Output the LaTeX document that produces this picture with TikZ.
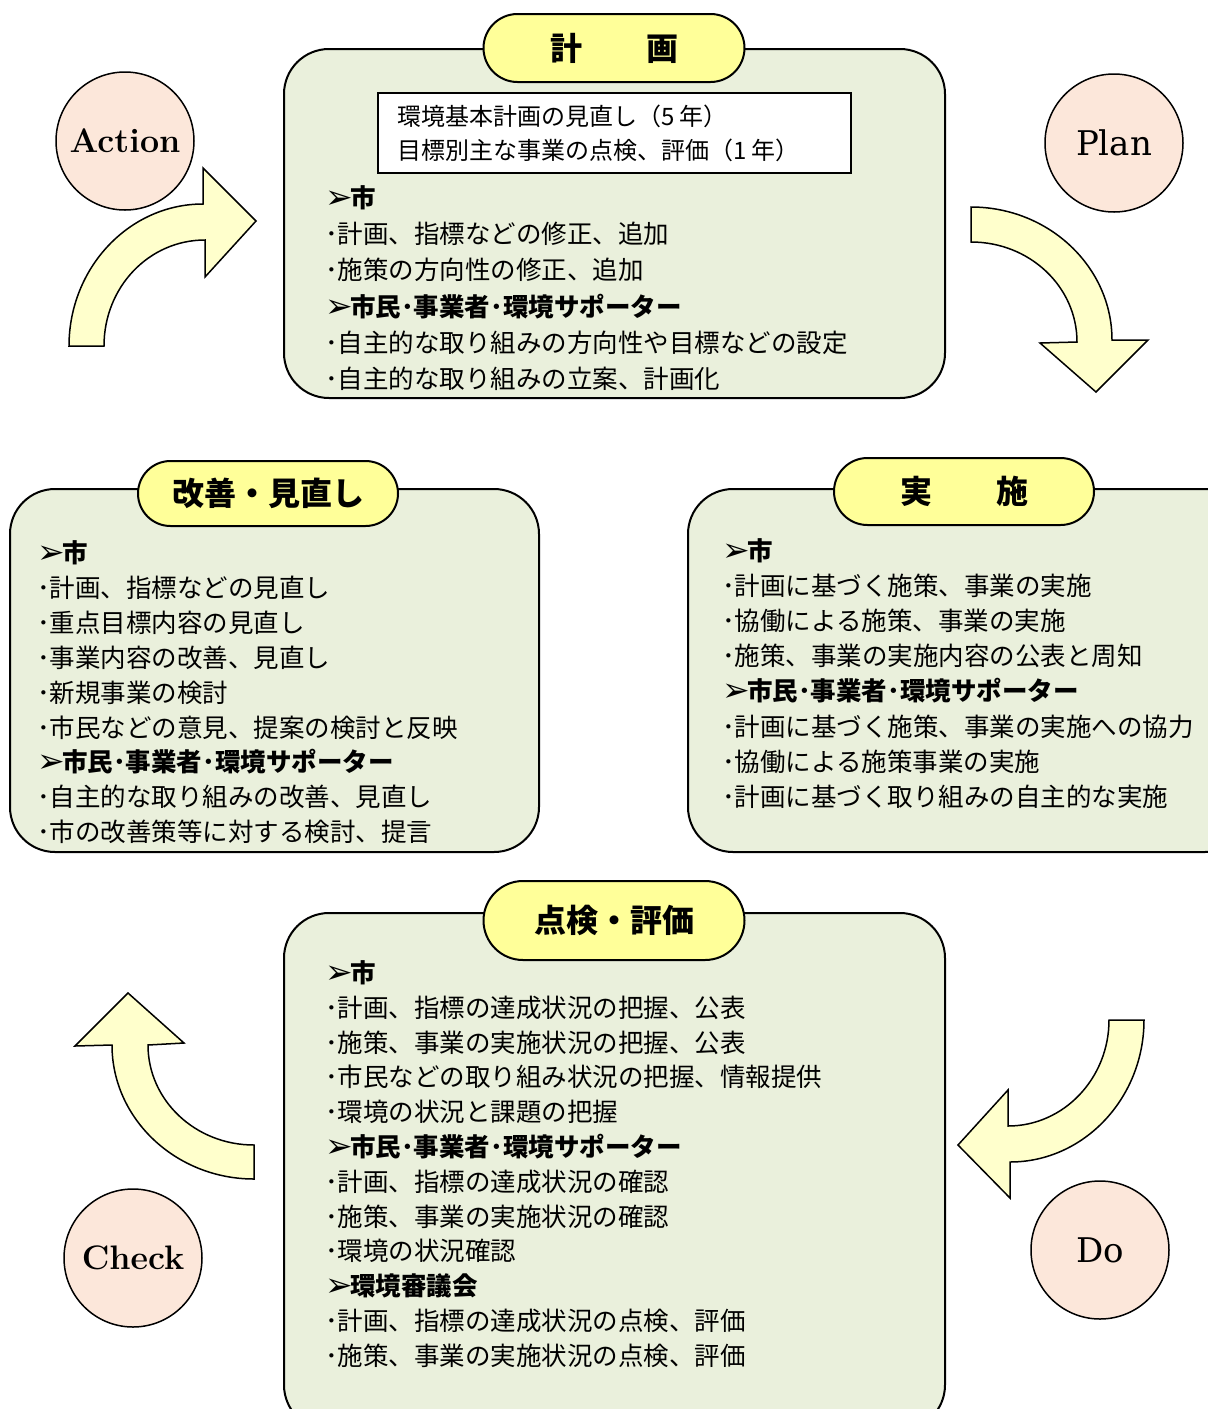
\documentclass[tikz,border=0pt]{standalone}
\usepackage{fontspec}
\newfontfamily\jp{Noto Sans CJK JP}
\newfontfamily\dv{DejaVu Sans}
\newfontfamily\dvserif{DejaVu Serif}
\definecolor{boxfill}{RGB}{234,240,220}
\definecolor{tabfill}{RGB}{255,255,153}
\definecolor{circfill}{RGB}{252,231,218}
\definecolor{arrfill}{RGB}{255,255,204}
\newcommand\hd[1]{\makebox[25pt][l]{\raisebox{-1pt}{\dv\fontsize{33}{33}\selectfont ➢}}{\bfseries #1}}
\tikzset{
  panel/.style={draw=black, line width=2pt, fill=boxfill, rounded corners=45pt},
  tab/.style={draw=black, line width=2pt, fill=tabfill, inner sep=0pt,
    minimum width=261pt, font=\jp\bfseries\fontsize{32}{36}\selectfont},
  line/.style={anchor=base west, inner sep=0pt, font=\jp\fontsize{25.5}{30}\selectfont},
  boxline/.style={anchor=base west, inner sep=0pt, font=\jp\fontsize{24}{28}\selectfont},
  pdca/.style={circle, draw=black, line width=1.5pt, fill=circfill, minimum size=138pt, inner sep=0pt},
  blockarrow/.style={draw=black, line width=1.5pt, fill=arrfill, line join=miter},
  plainbox/.style={draw=black, line width=1.5pt, fill=white}
}
\begin{document}
\begin{tikzpicture}[x=1pt,y=-1pt]
\useasboundingbox (0,0) rectangle (1208,1409);
\clip (0,0) rectangle (1208,1409);
\fill[white] (0,0) rectangle (1208,1409);

% ---------- panels ----------
\draw[panel] (284,49) rectangle (945,398);
\draw[panel] (10,489) rectangle (539,852);
\draw[panel] (688,489) rectangle (1250,852);
\draw[panel] (284,913) rectangle (945,1430);

% ---------- tabs ----------
\node[tab, minimum height=68pt, rounded corners=34pt] (tab1) at (614,48) {計　　画};
\node[tab, minimum height=65pt, rounded corners=32.5pt, minimum width=260pt] (tab2) at (268,493.5) {改善・見直し};
\node[tab, minimum height=67pt, rounded corners=33.5pt, minimum width=260pt] (tab3) at (964,491.5) {実　　施};
\node[tab, minimum height=79pt, rounded corners=39.5pt] (tab4) at (614,920.5) {点検・評価};

% ---------- plan white box ----------
\draw[plainbox] (378,93) rectangle (851,173);
\node[boxline] (w1) at (397,125) {環境基本計画の見直し（5 年）};
\node[boxline] (w2) at (397,159) {目標別主な事業の点検、評価（1 年）};

% ---------- text lines ----------
\foreach \t [count=\i] in {
  \hd{市},
  ･計画、指標などの修正、追加,
  ･施策の方向性の修正、追加,
  \hd{市民･事業者･環境サポーター},
  ･自主的な取り組みの方向性や目標などの設定,
  ･自主的な取り組みの立案、計画化}
  \node[line] (p\i) at (325,{207.5+(\i-1)*36.2}) {\t};

\foreach \t [count=\i] in {
  \hd{市},
  ･計画、指標などの見直し,
  ･重点目標内容の見直し,
  ･事業内容の改善、見直し,
  ･新規事業の検討,
  ･市民などの意見、提案の検討と反映,
  \hd{市民･事業者･環境サポーター},
  ･自主的な取り組みの改善、見直し,
  ･市の改善策等に対する検討、提言}
  \node[line] (a\i) at (37,{562.5+(\i-1)*34.9}) {\t};

\foreach \t [count=\i] in {
  \hd{市},
  ･計画に基づく施策、事業の実施,
  ･協働による施策、事業の実施,
  ･施策、事業の実施内容の公表と周知,
  \hd{市民･事業者･環境サポーター},
  ･計画に基づく施策、事業の実施への協力,
  ･協働による施策事業の実施,
  ･計画に基づく取り組みの自主的な実施}
  \node[line] (d\i) at (722,{560.5+(\i-1)*35.1}) {\t};

\foreach \t [count=\i] in {
  \hd{市},
  ･計画、指標の達成状況の把握、公表,
  ･施策、事業の実施状況の把握、公表,
  ･市民などの取り組み状況の把握、情報提供,
  ･環境の状況と課題の把握,
  \hd{市民･事業者･環境サポーター},
  ･計画、指標の達成状況の確認,
  ･施策、事業の実施状況の確認,
  ･環境の状況確認,
  \hd{環境審議会},
  ･計画、指標の達成状況の点検、評価,
  ･施策、事業の実施状況の点検、評価}
  \node[line] (c\i) at (325,{982.5+(\i-1)*34.8}) {\t};

% ---------- PDCA circles ----------
\node[pdca, font=\bfseries\fontsize{34}{40}\selectfont] (action) at (125,141) {Action};
\node[pdca, font=\dvserif\fontsize{34}{40}\selectfont] (plan) at (1114,143) {Plan};
\node[pdca, font=\bfseries\fontsize{34}{40}\selectfont] (check) at (133,1258) {Check};
\node[pdca, font=\dvserif\fontsize{34}{40}\selectfont] (do) at (1100,1250) {Do};

% ---------- curved block arrows ----------
% Action -> Plan (left, pointing right)
\draw[blockarrow] (69,346) .. controls (69,268) and (129,204) .. (203,204)
  -- (203,168) -- (256,221) -- (205,277) -- (205,240)
  .. controls (149,240) and (104,287) .. (104,346) -- cycle;
% Plan -> Do (right, pointing down)
\draw[blockarrow] (971,207) .. controls (1049,207) and (1112,267) .. (1112,340)
  -- (1148,340) -- (1096,392) -- (1040,343) -- (1077,342)
  .. controls (1077,287) and (1030,242) .. (971,242) -- cycle;
% Do -> Check (right bottom, pointing left)
\draw[blockarrow] (1144,1020) .. controls (1144,1098) and (1084,1162) .. (1010,1162)
  -- (1010,1198) -- (958,1145) -- (1008,1090) -- (1008,1126)
  .. controls (1064,1126) and (1109,1078) .. (1109,1020) -- cycle;
% Check -> Action (left bottom, pointing up)
\draw[blockarrow] (254,1179) .. controls (176,1179) and (112,1119) .. (112,1045)
  -- (75,1046) -- (128,993) -- (184,1043) -- (148,1045)
  .. controls (148,1100) and (195,1145) .. (254,1145) -- cycle;
\end{tikzpicture}
\end{document}
